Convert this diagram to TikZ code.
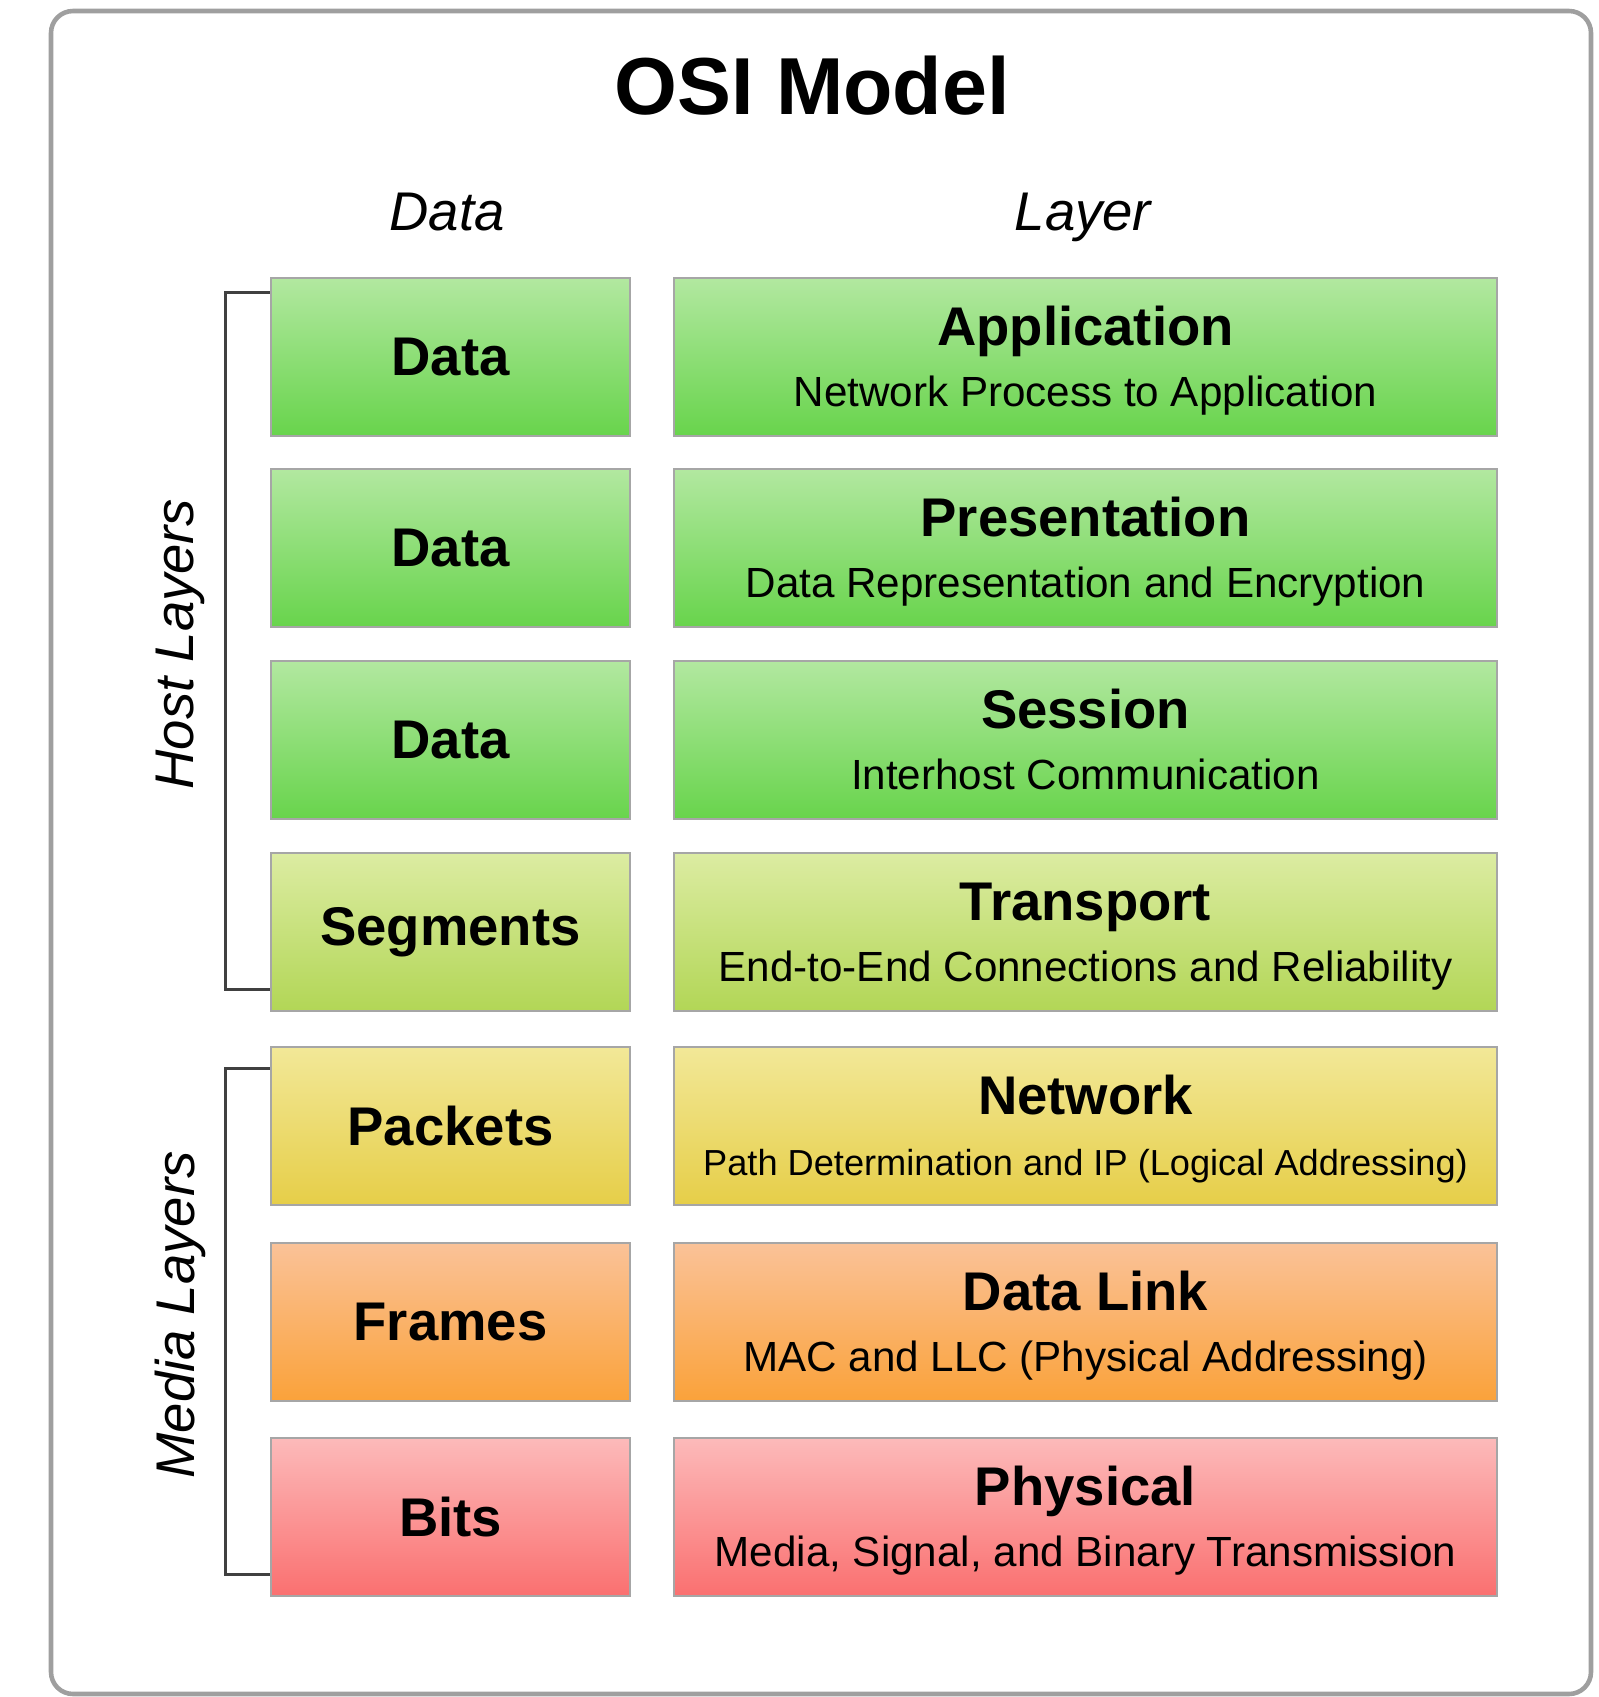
\documentclass[tikz,border=0pt]{standalone}
\usepackage{fontspec}
\setmainfont{Liberation Sans}
\usepackage{xcolor}
\usetikzlibrary{positioning}

\definecolor{topgreen}{RGB}{178,232,160}
\definecolor{botgreen}{RGB}{104,212,76}
\definecolor{toplime}{RGB}{220,236,162}
\definecolor{botlime}{RGB}{178,214,86}
\definecolor{topyellow}{RGB}{242,232,152}
\definecolor{botyellow}{RGB}{230,206,72}
\definecolor{toporange}{RGB}{250,194,152}
\definecolor{botorange}{RGB}{250,162,58}
\definecolor{topred}{RGB}{252,186,186}
\definecolor{botred}{RGB}{250,112,112}

\tikzset{
  databox/.style={draw=gray!70, line width=0.8pt, minimum width=3.59cm, minimum height=1.58cm, inner sep=0pt, font=\fontsize{15.5}{18}\selectfont\bfseries},
  layerbox/.style={draw=gray!70, line width=0.8pt, minimum width=8.23cm, minimum height=1.58cm, inner sep=0pt},
  layertitle/.style={font=\fontsize{15.5}{18}\selectfont\bfseries, inner sep=0pt, anchor=base},
  layersub/.style={inner sep=0pt, anchor=base},
  header/.style={font=\fontsize{15.5}{18}\selectfont\itshape, inner sep=0pt, anchor=base},
  bracket/.style={draw=gray!50!black, line width=1pt},
}

\begin{document}
\begin{tikzpicture}
  \useasboundingbox[fill=white] (0,0) rectangle (15.99,-16.97);
  \draw[rounded corners=0.22cm, draw=gray!75, line width=1.3pt] (0.51,-0.11) rectangle (15.91,-16.94);

  \node[font=\fontsize{23}{28}\selectfont\bfseries, inner sep=0pt, anchor=base] (title) at (8.12,-1.14) {OSI Model};
  \node[header] (hdata) at (4.47,-2.30) {Data};
  \node[header] (hlayer) at (10.83,-2.30) {Layer};

  % one row per layer
  \foreach \n/\y/\dat/\lay/\sub/\col/\sz in {
    1/3.57/Data/Application/Network Process to Application/green/12,
    2/5.48/Data/Presentation/Data Representation and Encryption/green/12,
    3/7.40/Data/Session/Interhost Communication/green/12,
    4/9.32/Segments/Transport/End-to-End Connections and Reliability/lime/12,
    5/11.26/Packets/Network/Path Determination and IP (Logical Addressing)/yellow/10.3,
    6/13.22/Frames/Data Link/MAC and LLC (Physical Addressing)/orange/12,
    7/15.17/Bits/Physical/{Media, Signal, and Binary Transmission}/red/12}
  {
    \node[databox, top color=top\col, bottom color=bot\col] (d\n) at (4.505,-\y) {\dat};
    \node[layerbox, top color=top\col, bottom color=bot\col] (l\n) at (10.855,-\y) {};
    \node[layertitle, yshift=0.115cm] (t\n) at (l\n.center) {\lay};
    \node[layersub, yshift=-0.49cm, font=\fontsize{\sz}{14}\selectfont] (s\n) at (l\n.center) {\sub};
  }

  % brackets
  \coordinate[below=0.16cm of d1.north west] (hostTop);
  \coordinate[above=0.23cm of d4.south west] (hostBot);
  \coordinate[below=0.23cm of d5.north west] (mediaTop);
  \coordinate[above=0.23cm of d7.south west] (mediaBot);
  \draw[bracket] (hostTop) -- ++(-0.44,0) |- (hostBot);
  \draw[bracket] (mediaTop) -- ++(-0.44,0) |- (mediaBot);

  \node[font=\fontsize{15.5}{18}\selectfont\itshape, rotate=90, inner sep=0pt] (host) at (1.80,-6.44) {Host Layers};
  \node[font=\fontsize{15.5}{18}\selectfont\itshape, rotate=90, inner sep=0pt] (media) at (1.80,-13.15) {Media Layers};
\end{tikzpicture}
\end{document}
